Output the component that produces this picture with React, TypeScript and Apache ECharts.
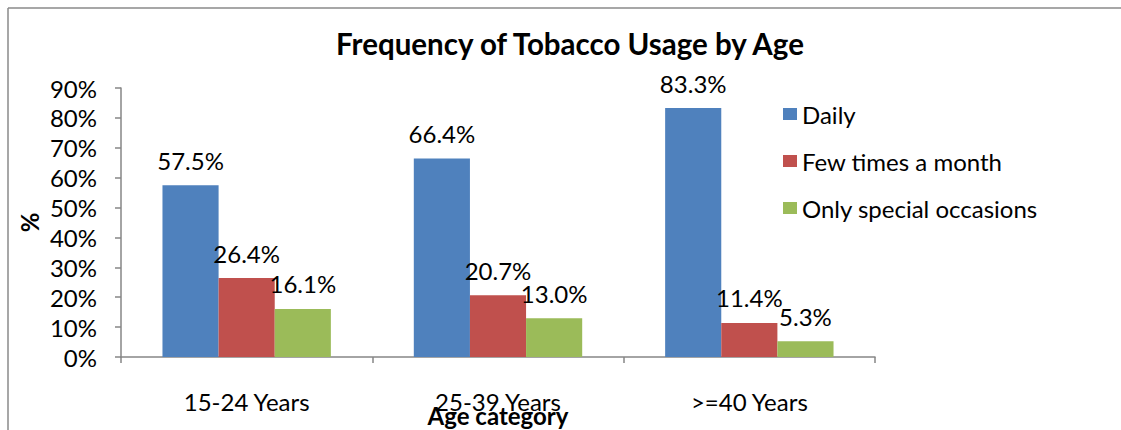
import React, { useEffect, useRef } from "react";
import * as echarts from "echarts";

const categories = ["15-24 Years", "25-39 Years", ">=40 Years"];
const seriesNames = ["Daily", "Few times a month", "Only special occasions"];
const daily = [57.5, 66.4, 83.3];
const fewTimes = [26.4, 20.7, 11.4];
const special = [16.1, 13.0, 5.3];
const colors = ["#4F81BD", "#C0504D", "#9BBB59"];

const FONT = "Lato, 'Open Sans', sans-serif";
const W = 1121;
const H = 430;

export default function App() {
  const ref = useRef<HTMLDivElement>(null);
  useEffect(() => {
    if (!ref.current) return;
    document.body.style.margin = "0";
    document.body.style.overflow = "hidden";
    const chart = echarts.init(ref.current, null, { renderer: "svg", width: W, height: H });
    const values = [daily, fewTimes, special];
    chart.setOption({
      animation: false,
      textStyle: { fontFamily: FONT, color: "#000" },
      title: {
        text: "Frequency of Tobacco Usage by Age",
        left: 570,
        textAlign: "center",
        top: 28,
        padding: 0,
        textStyle: { fontFamily: FONT, fontSize: 29.5, fontWeight: "bold", color: "#000" },
      },
      legend: {
        orient: "vertical",
        left: 783,
        top: 102,
        padding: 0,
        itemWidth: 14,
        itemHeight: 12,
        itemGap: 23,
        icon: "rect",
        textStyle: { fontFamily: FONT, fontSize: 24, color: "#000", lineHeight: 24 },
        data: seriesNames,
      },
      grid: { left: 121, top: 88, right: 246, bottom: 73, containLabel: false, outerBoundsMode: "none" },
      xAxis: {
        type: "category",
        data: categories,
        name: "Age category",
        nameLocation: "middle",
        nameGap: 46,
        nameMoveOverlap: false,
        nameTextStyle: { fontFamily: FONT, fontSize: 24, fontWeight: "bold", color: "#000" },
        axisLine: { lineStyle: { color: "#868686", width: 1.5 } },
        axisTick: { show: true, length: 6, lineStyle: { color: "#868686", width: 1.5 } },
        axisLabel: { margin: 32, fontFamily: FONT, fontSize: 24, color: "#000" },
      },
      yAxis: {
        type: "value",
        min: 0,
        max: 90,
        interval: 10,
        name: "%",
        nameLocation: "middle",
        nameGap: 80,
        nameMoveOverlap: false,
        nameTextStyle: { fontFamily: FONT, fontSize: 24, fontWeight: "bold", color: "#000" },
        axisLine: { show: true, lineStyle: { color: "#868686", width: 1.5 } },
        axisTick: { show: true, length: 6, lineStyle: { color: "#868686", width: 1.5 } },
        splitLine: { show: false },
        axisLabel: { margin: 24, fontFamily: FONT, fontSize: 24, color: "#000", formatter: "{value}%" },
      },
      series: seriesNames.map((name, i) => ({
        name,
        type: "bar",
        data: values[i],
        barGap: "0%",
        barCategoryGap: "33%",
        itemStyle: { color: colors[i] },
        label: {
          show: true,
          position: "top",
          distance: 13,
          fontFamily: FONT,
          fontSize: 24,
          color: "#000",
          formatter: (p: any) => Number(p.value).toFixed(1) + "%",
        },
      })),
      graphic: [
        { type: "line", shape: { x1: 8, y1: 8, x2: W, y2: 8 }, style: { stroke: "#8a8a8a", lineWidth: 1.5 } },
        { type: "line", shape: { x1: 8, y1: 8, x2: 8, y2: H }, style: { stroke: "#8a8a8a", lineWidth: 1.5 } },
      ],
    });
    return () => chart.dispose();
  }, []);
  return <div ref={ref} style={{ width: W, height: H }} />;
}
